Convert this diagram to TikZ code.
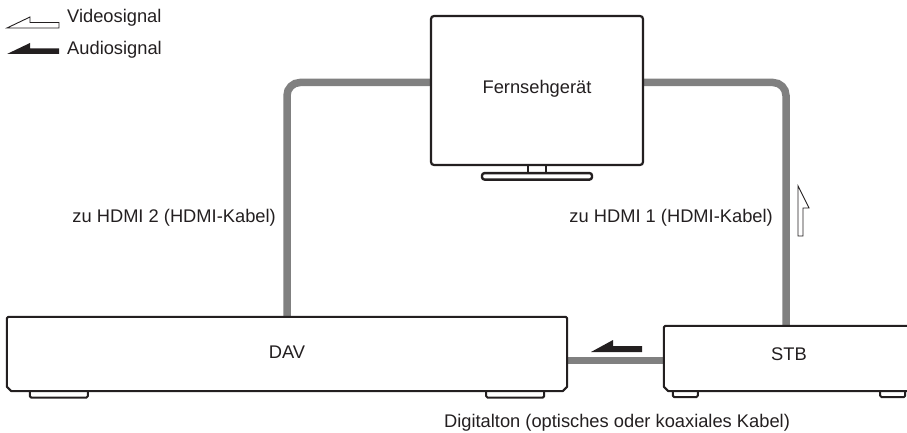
\documentclass[tikz,border=0pt]{standalone}
\usepackage{fontspec}
\setmainfont{Liberation Sans}
\usetikzlibrary{calc}
\pgfdeclarelayer{bg}
\pgfsetlayers{bg,main}
\definecolor{cablegray}{HTML}{808080}
\definecolor{inkc}{HTML}{231F20}
\begin{document}
\begin{tikzpicture}[x=1pt,y=-1pt,
  txt/.style={font=\fontsize{18.3}{22}\selectfont, inner sep=0pt, text=inkc},
  devbox/.style={draw=none, fill=white, inner sep=0pt},
  outl/.style={draw=inkc, line width=2pt, line join=round},
  cable/.style={draw=cablegray, line width=7.5pt, rounded corners=13pt},
  sigarrow/.style={draw=inkc, line width=0.9pt, line join=miter}
]
\useasboundingbox (0,0) rectangle (907,433);
\clip (0,0) rectangle (907,433);

% TV
\node[draw=inkc, line width=2.2pt, rounded corners=3pt, fill=white,
      minimum width=212pt, minimum height=149pt, inner sep=0pt, txt]
      (tv) at (537,90.5) {\raisebox{6.5pt}{Fernsehgerät}};
\draw[outl] ([xshift=-9pt]tv.south) -- ++(0,7);
\draw[outl] ([xshift=9pt]tv.south) -- ++(0,7);
\draw[outl, line width=2.4pt, rounded corners=2.5pt, fill=white]
  ($(tv.south)+(-55,7)$) rectangle ($(tv.south)+(55,13.5)$);

% DAV
\node[devbox, minimum width=560pt, minimum height=74pt, txt]
      (dav) at (287,354) {\raisebox{4.5pt}{DAV}};
\draw[outl, rounded corners=1.5pt]
  ([yshift=3pt]dav.south west) -- (dav.north west) -- (dav.north east)
  -- ([yshift=3pt]dav.south east) -- ([xshift=-3pt,yshift=3pt]dav.south east)
  -- ([xshift=-3pt]dav.south east) -- ([xshift=3pt]dav.south west)
  -- ([xshift=3pt,yshift=3pt]dav.south west) -- cycle;
\draw[outl, rounded corners=1.5pt] ([xshift=23pt]dav.south west) -- ++(0,6.5) -- ++(58,0) -- ++(0,-6.5);
\draw[outl, rounded corners=1.5pt] ([xshift=-23pt]dav.south east) -- ++(0,6.5) -- ++(-58,0) -- ++(0,-6.5);

% STB
\node[devbox, minimum width=250pt, minimum height=65pt, txt]
      (stb) at (789,358.5) {\raisebox{8.5pt}{STB}};
\draw[outl, rounded corners=1.5pt]
  ([yshift=3pt]stb.south west) -- (stb.north west) -- (stb.north east)
  -- ([yshift=3pt]stb.south east) -- ([xshift=-3pt,yshift=3pt]stb.south east)
  -- ([xshift=-3pt]stb.south east) -- ([xshift=3pt]stb.south west)
  -- ([xshift=3pt,yshift=3pt]stb.south west) -- cycle;
\draw[outl, rounded corners=1.5pt] ([xshift=9pt]stb.south west) -- ++(0,6) -- ++(25,0) -- ++(0,-6);
\draw[outl, rounded corners=1.5pt] ([xshift=-9pt]stb.south east) -- ++(0,6) -- ++(-25,0) -- ++(0,-6);

% cables
\begin{pgfonlayer}{bg}
\draw[cable] (dav.north) |- ([yshift=8pt]tv.west);
\draw[cable] ([xshift=-3pt]stb.north) |- ([yshift=8pt]tv.east);
\draw[cable, rounded corners=0pt] ([yshift=-2pt]stb.west) -- ([yshift=-2pt]stb.west -| dav.east);
\end{pgfonlayer}

% signal arrows
\draw[sigarrow, fill=white] (798,236) -- (798,186) -- (809,208) -- (803,208) -- (803,236) -- cycle;
\fill[inkc] (591,352) -- (613,340) -- (613,346) -- (642,346) -- (642,352) -- cycle;

% legend
\draw[sigarrow, fill=white] (7,28) -- (30,17) -- (30,22.5) -- (59,22.5) -- (59,28) -- cycle;
\fill[inkc] (7,54) -- (30,43) -- (30,48.5) -- (59,48.5) -- (59,54) -- cycle;
\node[txt, anchor=base west] (vlab) at (67,23) {Videosignal};
\node[txt, anchor=base west] (alab) at (67,55) {Audiosignal};

% labels
\node[txt, anchor=base east] (l2) at (276,222) {zu HDMI 2 (HDMI-Kabel)};
\node[txt, anchor=base east] (l1) at (773,222) {zu HDMI 1 (HDMI-Kabel)};
\node[txt, anchor=base] (dl) at (617,427) {Digitalton (optisches oder koaxiales Kabel)};
\end{tikzpicture}
\end{document}
